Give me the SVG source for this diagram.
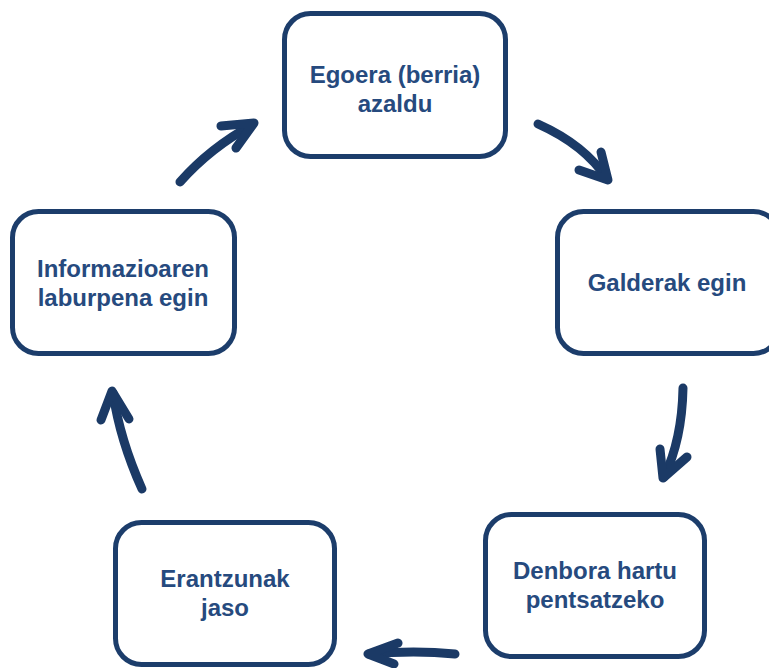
<svg xmlns="http://www.w3.org/2000/svg" width="769" height="668" viewBox="0 0 769 668">
<style>
.box{fill:#fff;stroke:#1c3d6b;stroke-width:5}
.t{font-family:"Liberation Sans",Arial,sans-serif;font-weight:bold;font-size:24px;fill:#264a7e;text-anchor:middle}
.a{fill:none;stroke:#1b3a66;stroke-width:9;stroke-linecap:round;stroke-linejoin:round}
</style>
<rect width="769" height="668" fill="#fff"/>
<g id="n1"><rect class="box" x="284.5" y="13.5" width="221" height="143" rx="26"/><text class="t" x="395" y="83">Egoera (berria)</text><text class="t" x="395" y="112">azaldu</text></g>
<g id="n2"><rect class="box" x="557.5" y="211.5" width="222" height="142" rx="26"/><text class="t" x="667" y="291">Galderak egin</text></g>
<g id="n3"><rect class="box" x="485.5" y="514.5" width="219" height="142" rx="26"/><text class="t" x="595" y="579">Denbora hartu</text><text class="t" x="595" y="608">pentsatzeko</text></g>
<g id="n4"><rect class="box" x="115.5" y="522.5" width="219" height="142" rx="26"/><text class="t" x="225" y="587">Erantzunak</text><text class="t" x="225" y="616">jaso</text></g>
<g id="n5"><rect class="box" x="12.5" y="211.5" width="222" height="142" rx="26"/><text class="t" x="123" y="277">Informazioaren</text><text class="t" x="123" y="306">laburpena egin</text></g>
<g id="connectors">
<path class="a" d="M180 182 Q210 148 252 125"/><path class="a" d="M221 126 L254 123 L236 148"/>
<path class="a" d="M538 124 Q585 145 607 179"/><path class="a" d="M601 152 L608 180 L579 170"/>
<path class="a" d="M683 388 Q682 440 664 477"/><path class="a" d="M660 449 L663 478 L687 457"/>
<path class="a" d="M455 654 Q415 650 369 654"/><path class="a" d="M398 643 L368 654 L394 664"/>
<path class="a" d="M142 489 Q120 440 113 393"/><path class="a" d="M101 420 L112 391 L129 419"/>
</g>
</svg>
